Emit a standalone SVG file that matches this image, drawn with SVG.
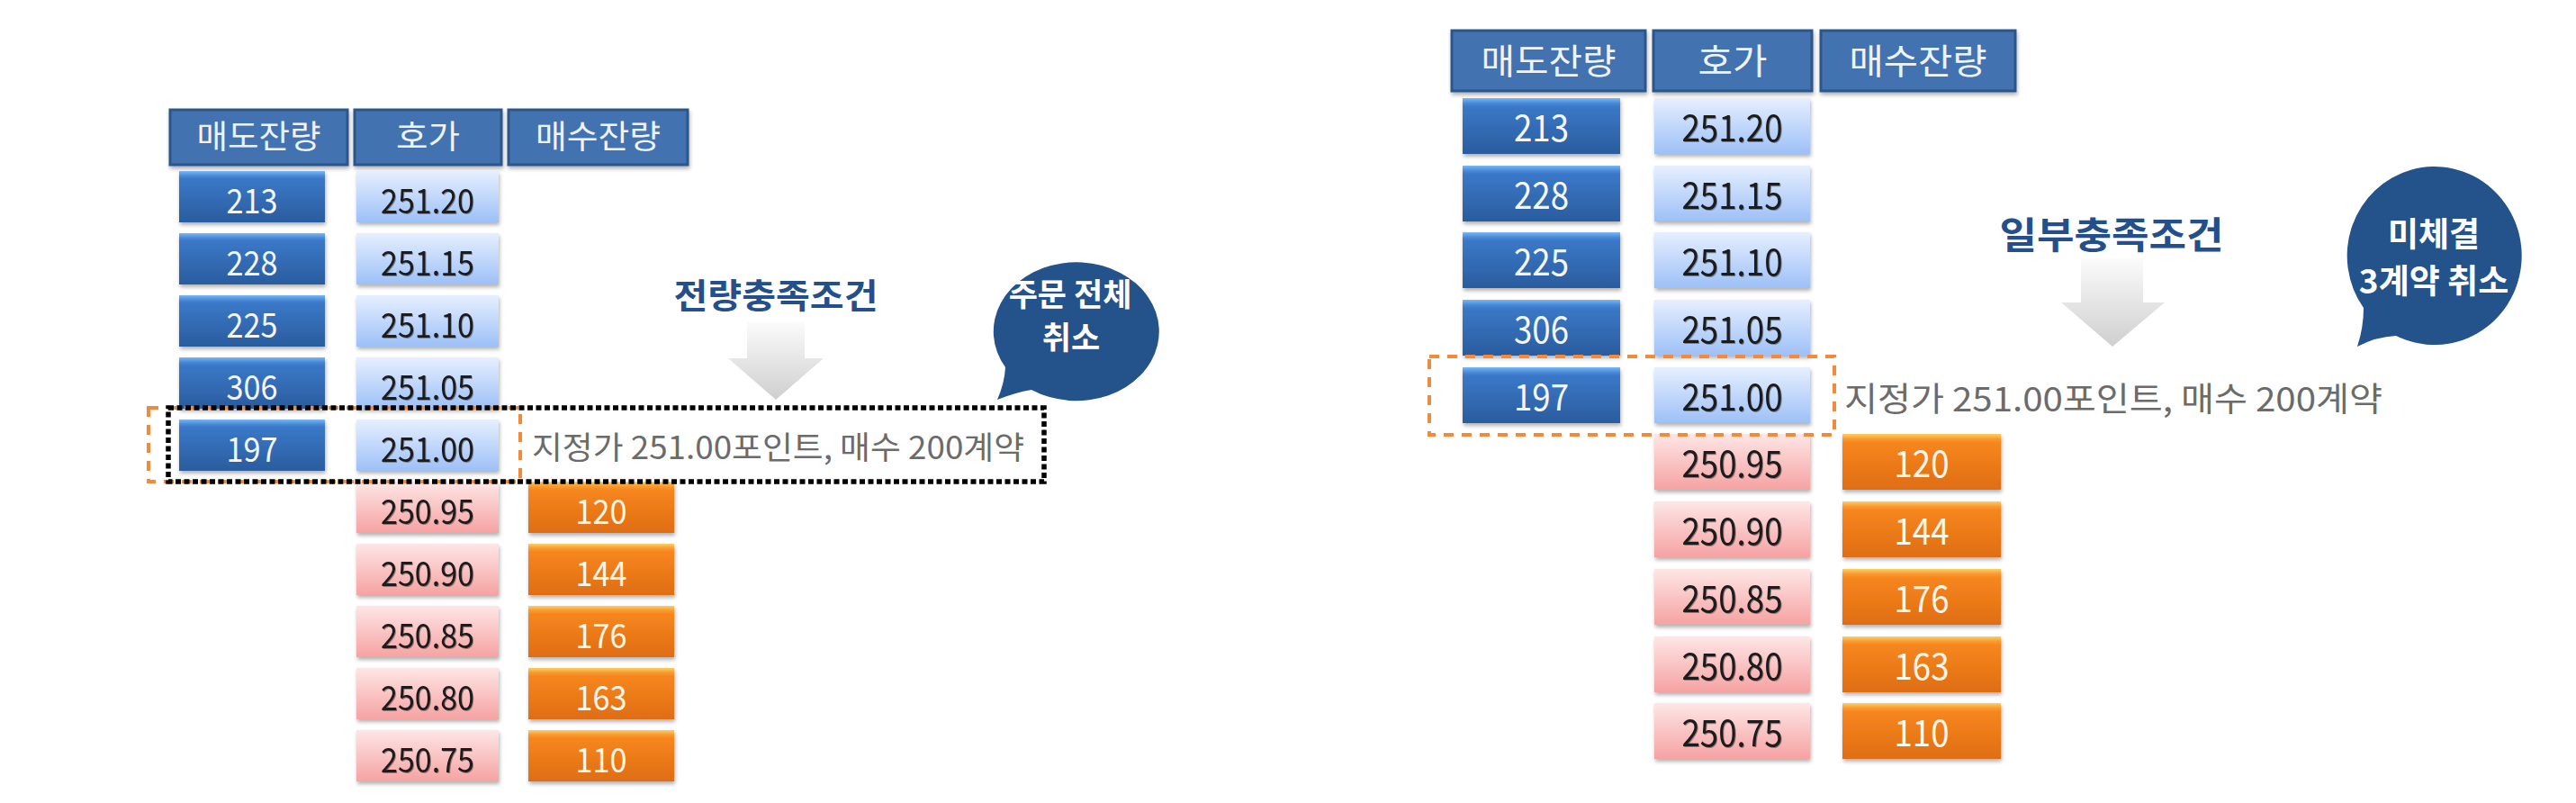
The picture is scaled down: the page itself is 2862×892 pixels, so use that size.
<svg xmlns="http://www.w3.org/2000/svg" width="2862" height="892" viewBox="0 0 2862 892">
<defs>
<linearGradient id="gSell" x1="0" y1="0" x2="0" y2="1">
<stop offset="0" stop-color="#7ab8f8"/><stop offset="0.09" stop-color="#4a8ad8"/><stop offset="0.15" stop-color="#3a78c8"/><stop offset="1" stop-color="#2a5c9e"/>
</linearGradient>
<linearGradient id="gPrice" x1="0" y1="0" x2="0" y2="1">
<stop offset="0" stop-color="#e6efff"/><stop offset="1" stop-color="#9dc0f7"/>
</linearGradient>
<linearGradient id="gPink" x1="0" y1="0" x2="0" y2="1">
<stop offset="0" stop-color="#fee6e6"/><stop offset="1" stop-color="#f6a2a2"/>
</linearGradient>
<linearGradient id="gBuy" x1="0" y1="0" x2="0" y2="1">
<stop offset="0" stop-color="#fdd060"/><stop offset="0.09" stop-color="#f99a30"/><stop offset="0.16" stop-color="#f6861e"/><stop offset="1" stop-color="#df6d12"/>
</linearGradient>
<linearGradient id="gArrow" x1="0" y1="0" x2="0" y2="1">
<stop offset="0" stop-color="#fbfbfb"/><stop offset="1" stop-color="#cfcfcf"/>
</linearGradient>
<filter id="sh" x="-10%" y="-10%" width="125%" height="140%">
<feDropShadow dx="1" dy="3" stdDeviation="2" flood-color="#000" flood-opacity="0.3"/>
</filter>
<filter id="tsh" x="-5%" y="-5%" width="115%" height="125%">
<feDropShadow dx="1" dy="1" stdDeviation="0.6" flood-color="#000" flood-opacity="0.35"/>
</filter>
</defs>
<style>
text{font-family:"Noto Sans CJK KR","Noto Sans",sans-serif;text-anchor:middle}
.hdr{fill:#4372b0;stroke:#2c5689;stroke-width:3;filter:url(#sh)}
.hdrT{fill:#eef3fa;font-size:36px}
.hdrTR{fill:#eef3fa;font-size:39px}
.sell{fill:url(#gSell);filter:url(#sh)}
.price{fill:url(#gPrice);filter:url(#sh)}
.pink{fill:url(#gPink);filter:url(#sh)}
.buy{fill:url(#gBuy);filter:url(#sh)}
.wN{fill:#f4f6fa;font-size:38px}
.bN{fill:#1a1a1a;font-size:38px;filter:url(#tsh)}
.wNR{fill:#f4f6fa;font-size:41px}
.bNR{fill:#1a1a1a;font-size:41px;filter:url(#tsh)}
.oN{fill:#fff6ea;font-size:38px}
.oNR{fill:#fff6ea;font-size:41px}
.title{fill:#23508c;font-weight:bold}
.note{fill:#6b6b6b;text-anchor:start}
.bub{fill:#24528a}
.bubT{fill:#ffffff;font-weight:bold}
.odash{fill:none;stroke:#f08a3c;stroke-width:4;stroke-dasharray:11 9}
.kdot{fill:none;stroke:#000;stroke-width:5.5;stroke-dasharray:6 3.5}
.arrow{fill:url(#gArrow)}
</style>

<!-- ===== LEFT PANEL ===== -->
<g id="L-hdr-sell"><rect class="hdr" x="189" y="122" width="197" height="61"/><text class="hdrT" x="287.5" y="165" textLength="138" lengthAdjust="spacingAndGlyphs">매도잔량</text></g>
<g id="L-hdr-price"><rect class="hdr" x="394" y="122" width="163" height="61"/><text class="hdrT" x="475.5" y="165" textLength="71" lengthAdjust="spacingAndGlyphs">호가</text></g>
<g id="L-hdr-buy"><rect class="hdr" x="565" y="122" width="199" height="61"/><text class="hdrT" x="664.5" y="165" textLength="139" lengthAdjust="spacingAndGlyphs">매수잔량</text></g>

<g id="L-sell-1"><rect class="sell" x="199" y="190" width="162" height="57"/><text class="wN" x="280" y="237" textLength="57" lengthAdjust="spacingAndGlyphs">213</text></g>
<g id="L-sell-2"><rect class="sell" x="199" y="259" width="162" height="57"/><text class="wN" x="280" y="306" textLength="57" lengthAdjust="spacingAndGlyphs">228</text></g>
<g id="L-sell-3"><rect class="sell" x="199" y="328" width="162" height="57"/><text class="wN" x="280" y="375" textLength="57" lengthAdjust="spacingAndGlyphs">225</text></g>
<g id="L-sell-4"><rect class="sell" x="199" y="397" width="162" height="57"/><text class="wN" x="280" y="444" textLength="57" lengthAdjust="spacingAndGlyphs">306</text></g>
<g id="L-sell-5"><rect class="sell" x="199" y="466" width="162" height="57"/><text class="wN" x="280" y="513" textLength="57" lengthAdjust="spacingAndGlyphs">197</text></g>

<g id="L-price-1"><rect class="price" x="396" y="190" width="158" height="57"/><text class="bN" x="475" y="237" textLength="104" lengthAdjust="spacingAndGlyphs">251.20</text></g>
<g id="L-price-2"><rect class="price" x="396" y="259" width="158" height="57"/><text class="bN" x="475" y="306" textLength="104" lengthAdjust="spacingAndGlyphs">251.15</text></g>
<g id="L-price-3"><rect class="price" x="396" y="328" width="158" height="57"/><text class="bN" x="475" y="375" textLength="104" lengthAdjust="spacingAndGlyphs">251.10</text></g>
<g id="L-price-4"><rect class="price" x="396" y="397" width="158" height="57"/><text class="bN" x="475" y="444" textLength="104" lengthAdjust="spacingAndGlyphs">251.05</text></g>
<g id="L-price-5"><rect class="price" x="396" y="466" width="158" height="57"/><text class="bN" x="475" y="513" textLength="104" lengthAdjust="spacingAndGlyphs">251.00</text></g>
<g id="L-price-6"><rect class="pink" x="396" y="535" width="158" height="57"/><text class="bN" x="475" y="582" textLength="104" lengthAdjust="spacingAndGlyphs">250.95</text></g>
<g id="L-price-7"><rect class="pink" x="396" y="604" width="158" height="57"/><text class="bN" x="475" y="651" textLength="104" lengthAdjust="spacingAndGlyphs">250.90</text></g>
<g id="L-price-8"><rect class="pink" x="396" y="673" width="158" height="57"/><text class="bN" x="475" y="720" textLength="104" lengthAdjust="spacingAndGlyphs">250.85</text></g>
<g id="L-price-9"><rect class="pink" x="396" y="742" width="158" height="57"/><text class="bN" x="475" y="789" textLength="104" lengthAdjust="spacingAndGlyphs">250.80</text></g>
<g id="L-price-10"><rect class="pink" x="396" y="811" width="158" height="57"/><text class="bN" x="475" y="858" textLength="104" lengthAdjust="spacingAndGlyphs">250.75</text></g>

<g id="L-buy-1"><rect class="buy" x="587" y="535" width="162" height="57"/><text class="oN" x="668" y="582" textLength="57" lengthAdjust="spacingAndGlyphs">120</text></g>
<g id="L-buy-2"><rect class="buy" x="587" y="604" width="162" height="57"/><text class="oN" x="668" y="651" textLength="57" lengthAdjust="spacingAndGlyphs">144</text></g>
<g id="L-buy-3"><rect class="buy" x="587" y="673" width="162" height="57"/><text class="oN" x="668" y="720" textLength="57" lengthAdjust="spacingAndGlyphs">176</text></g>
<g id="L-buy-4"><rect class="buy" x="587" y="742" width="162" height="57"/><text class="oN" x="668" y="789" textLength="57" lengthAdjust="spacingAndGlyphs">163</text></g>
<g id="L-buy-5"><rect class="buy" x="587" y="811" width="162" height="57"/><text class="oN" x="668" y="858" textLength="57" lengthAdjust="spacingAndGlyphs">110</text></g>

<g id="L-title"><text class="title" x="862" y="342" font-size="38" textLength="227" lengthAdjust="spacingAndGlyphs">전량충족조건</text></g>
<g id="L-arrow"><path class="arrow" d="M830 358 H894 V398 H915 L862 444 L809 398 H830 Z"/></g>
<g id="L-bubble">
<path class="bub" d="M1117 408 A92 77 0 1 1 1146 433 Q1128 436 1108 444 Q1116 426 1117 408 Z"/>
<text class="bubT" x="1189" y="340" font-size="35">주문 전체</text>
<text class="bubT" x="1190" y="388" font-size="35">취소</text>
</g>
<g id="L-note"><text class="note" x="591" y="510" font-size="35" textLength="547" lengthAdjust="spacingAndGlyphs">지정가 251.00포인트, 매수 200계약</text></g>

<!-- ===== RIGHT PANEL ===== -->
<g id="R-hdr-sell"><rect class="hdr" x="1613" y="34" width="215" height="67"/><text class="hdrTR" x="1720.5" y="82" textLength="150" lengthAdjust="spacingAndGlyphs">매도잔량</text></g>
<g id="R-hdr-price"><rect class="hdr" x="1837" y="34" width="176" height="67"/><text class="hdrTR" x="1925" y="82" textLength="77" lengthAdjust="spacingAndGlyphs">호가</text></g>
<g id="R-hdr-buy"><rect class="hdr" x="2023" y="34" width="216" height="67"/><text class="hdrTR" x="2131" y="82" textLength="153" lengthAdjust="spacingAndGlyphs">매수잔량</text></g>

<g id="R-sell-1"><rect class="sell" x="1625" y="109" width="175" height="62"/><text class="wNR" x="1712.5" y="157" textLength="61" lengthAdjust="spacingAndGlyphs">213</text></g>
<g id="R-sell-2"><rect class="sell" x="1625" y="184" width="175" height="62"/><text class="wNR" x="1712.5" y="232" textLength="61" lengthAdjust="spacingAndGlyphs">228</text></g>
<g id="R-sell-3"><rect class="sell" x="1625" y="258" width="175" height="62"/><text class="wNR" x="1712.5" y="306" textLength="61" lengthAdjust="spacingAndGlyphs">225</text></g>
<g id="R-sell-4"><rect class="sell" x="1625" y="333" width="175" height="62"/><text class="wNR" x="1712.5" y="381" textLength="61" lengthAdjust="spacingAndGlyphs">306</text></g>
<g id="R-sell-5"><rect class="sell" x="1625" y="408" width="175" height="62"/><text class="wNR" x="1712.5" y="456" textLength="61" lengthAdjust="spacingAndGlyphs">197</text></g>

<g id="R-price-1"><rect class="price" x="1838" y="109" width="173" height="62"/><text class="bNR" x="1924.5" y="157" textLength="112" lengthAdjust="spacingAndGlyphs">251.20</text></g>
<g id="R-price-2"><rect class="price" x="1838" y="184" width="173" height="62"/><text class="bNR" x="1924.5" y="232" textLength="112" lengthAdjust="spacingAndGlyphs">251.15</text></g>
<g id="R-price-3"><rect class="price" x="1838" y="258" width="173" height="62"/><text class="bNR" x="1924.5" y="306" textLength="112" lengthAdjust="spacingAndGlyphs">251.10</text></g>
<g id="R-price-4"><rect class="price" x="1838" y="333" width="173" height="62"/><text class="bNR" x="1924.5" y="381" textLength="112" lengthAdjust="spacingAndGlyphs">251.05</text></g>
<g id="R-price-5"><rect class="price" x="1838" y="408" width="173" height="62"/><text class="bNR" x="1924.5" y="456" textLength="112" lengthAdjust="spacingAndGlyphs">251.00</text></g>
<g id="R-price-6"><rect class="pink" x="1838" y="482" width="173" height="62"/><text class="bNR" x="1924.5" y="530" textLength="112" lengthAdjust="spacingAndGlyphs">250.95</text></g>
<g id="R-price-7"><rect class="pink" x="1838" y="557" width="173" height="62"/><text class="bNR" x="1924.5" y="605" textLength="112" lengthAdjust="spacingAndGlyphs">250.90</text></g>
<g id="R-price-8"><rect class="pink" x="1838" y="632" width="173" height="62"/><text class="bNR" x="1924.5" y="680" textLength="112" lengthAdjust="spacingAndGlyphs">250.85</text></g>
<g id="R-price-9"><rect class="pink" x="1838" y="707" width="173" height="62"/><text class="bNR" x="1924.5" y="755" textLength="112" lengthAdjust="spacingAndGlyphs">250.80</text></g>
<g id="R-price-10"><rect class="pink" x="1838" y="781" width="173" height="62"/><text class="bNR" x="1924.5" y="829" textLength="112" lengthAdjust="spacingAndGlyphs">250.75</text></g>

<g id="R-buy-1"><rect class="buy" x="2047" y="482" width="176" height="62"/><text class="oNR" x="2135" y="530" textLength="61" lengthAdjust="spacingAndGlyphs">120</text></g>
<g id="R-buy-2"><rect class="buy" x="2047" y="557" width="176" height="62"/><text class="oNR" x="2135" y="605" textLength="61" lengthAdjust="spacingAndGlyphs">144</text></g>
<g id="R-buy-3"><rect class="buy" x="2047" y="632" width="176" height="62"/><text class="oNR" x="2135" y="680" textLength="61" lengthAdjust="spacingAndGlyphs">176</text></g>
<g id="R-buy-4"><rect class="buy" x="2047" y="707" width="176" height="62"/><text class="oNR" x="2135" y="755" textLength="61" lengthAdjust="spacingAndGlyphs">163</text></g>
<g id="R-buy-5"><rect class="buy" x="2047" y="781" width="176" height="62"/><text class="oNR" x="2135" y="829" textLength="61" lengthAdjust="spacingAndGlyphs">110</text></g>

<g id="R-title"><text class="title" x="2346" y="276" font-size="41" textLength="249" lengthAdjust="spacingAndGlyphs">일부충족조건</text></g>
<g id="R-arrow"><path class="arrow" d="M2312 287 H2381 V336 H2405 L2347 385 L2290 336 H2312 Z"/></g>
<g id="R-bubble">
<path class="bub" d="M2626 342 A97 99 0 1 1 2662 373 Q2640 374 2619 385 Q2626 364 2626 342 Z"/>
<text class="bubT" x="2704" y="274" font-size="37">미체결</text>
<text class="bubT" x="2704" y="326" font-size="37">3계약 취소</text>
</g>
<g id="R-note"><text class="note" x="2049" y="457" font-size="37" textLength="598" lengthAdjust="spacingAndGlyphs">지정가 251.00포인트, 매수 200계약</text></g>

<!-- ===== highlight frames ===== -->
<g id="connectors">
<rect class="odash" x="165" y="453" width="413" height="82"/>
<rect class="kdot" x="187" y="453" width="973" height="82"/>
<rect class="odash" x="1588" y="396" width="450" height="87"/>
</g>
</svg>
